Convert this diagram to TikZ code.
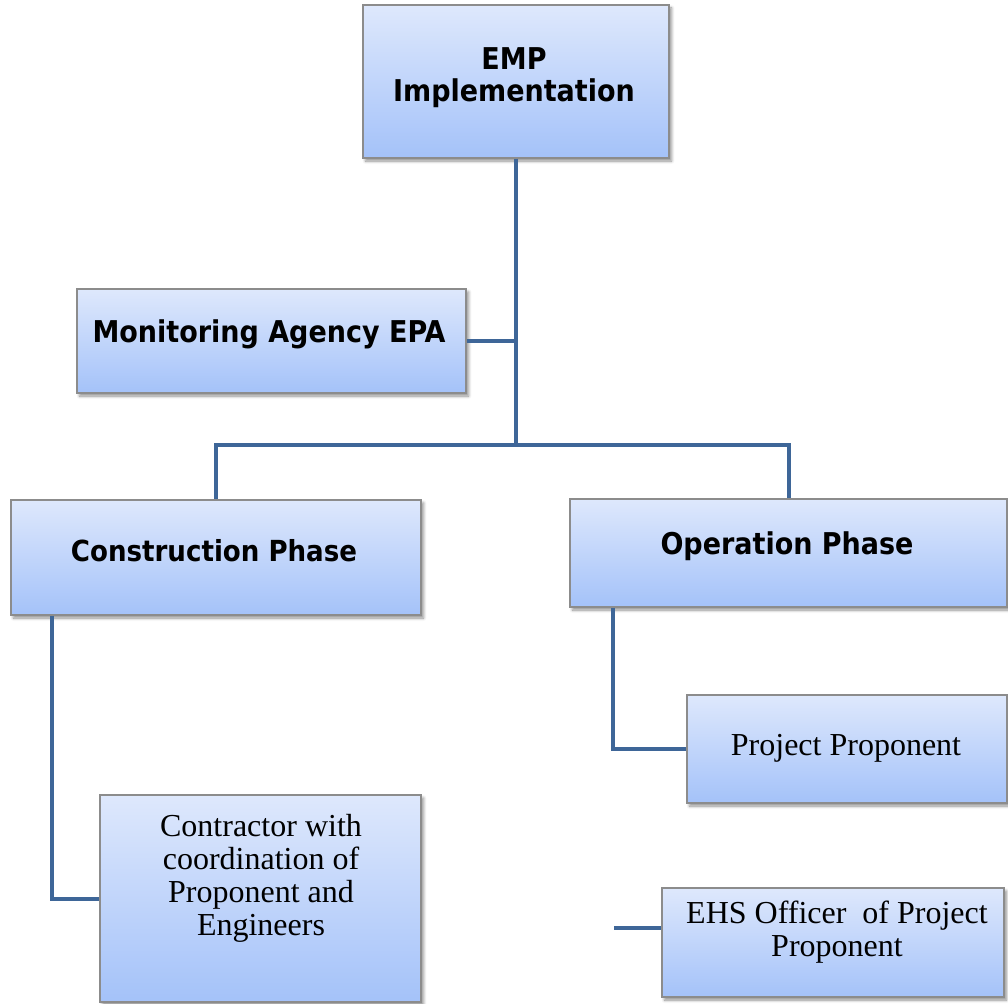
\documentclass[tikz,border=0pt]{standalone}
\usepackage{fontspec}
\setmainfont{Liberation Serif}
\newfontfamily\hd{DejaVu Sans Condensed}
\usetikzlibrary{shadows.blur}
\definecolor{boxtop}{HTML}{DEE8FC}
\definecolor{boxbot}{HTML}{A4C2F9}
\definecolor{boxline}{HTML}{8C8C8C}
\definecolor{conn}{HTML}{3E6698}
\tikzset{
  box/.style={rectangle, draw=boxline, line width=1.5pt, top color=boxtop, bottom color=boxbot,
    blur shadow={shadow xshift=2.5pt, shadow yshift=-3pt, shadow blur steps=6, shadow blur radius=3pt, shadow opacity=45}},
  hdtext/.style={font=\hd\bfseries\fontsize{30}{32}\selectfont, align=center, inner sep=0pt},
  srtext/.style={font=\fontsize{32}{33}\selectfont, align=center, inner sep=0pt},
  conline/.style={draw=conn, line width=4pt}
}
\begin{document}
\begin{tikzpicture}[x=1pt,y=-1pt]
\useasboundingbox (0,0) rectangle (1008,1003);
% boxes
\node[box, minimum width=306, minimum height=153] (emp) at (516,81.5) {};
\node[box, minimum width=389, minimum height=104] (mon) at (271.5,341) {};
\node[box, minimum width=410, minimum height=115] (cons) at (216,557.5) {};
\node[box, minimum width=437, minimum height=108] (oper) at (788.5,553) {};
\node[box, minimum width=320, minimum height=108] (pp) at (847,749) {};
\node[box, minimum width=321, minimum height=207] (contr) at (260.5,898.5) {};
\node[box, minimum width=342, minimum height=109] (ehs) at (833,942.5) {};
% connector points
\coordinate (j) at (516,445);
\coordinate (ehsfree) at (614,928);
% lines
\draw[conline] (emp.south) -- (j);
\draw[conline] (mon.east) -- (mon.east -| j);
\draw[conline] (j) -| (cons.north);
\draw[conline] (j) -| (oper.north);
\draw[conline] (cons.south west) ++(42,0) |- (contr.west);
\draw[conline] (oper.south west) ++(44,0) |- (pp.west);
\draw[conline] (ehsfree) -- (ehsfree -| ehs.west);
% texts
\node[hdtext] (empt) at (514,78) {EMP\\Implementation};
\node[hdtext] (mont) at (269,334) {Monitoring Agency EPA};
\node[hdtext, font=\hd\bfseries\fontsize{29}{32}\selectfont] (const) at (214,551) {Construction Phase};
\node[hdtext] (opert) at (787,546) {Operation Phase};
\node[srtext] (ppt) at (846,748) {Project Proponent};
\node[srtext] (contrt) at (261,878) {Contractor with\\coordination of\\Proponent and\\Engineers};
\node[srtext] (ehst) at (837,932) {EHS Officer\ \ of Project\\Proponent};
\end{tikzpicture}
\end{document}
